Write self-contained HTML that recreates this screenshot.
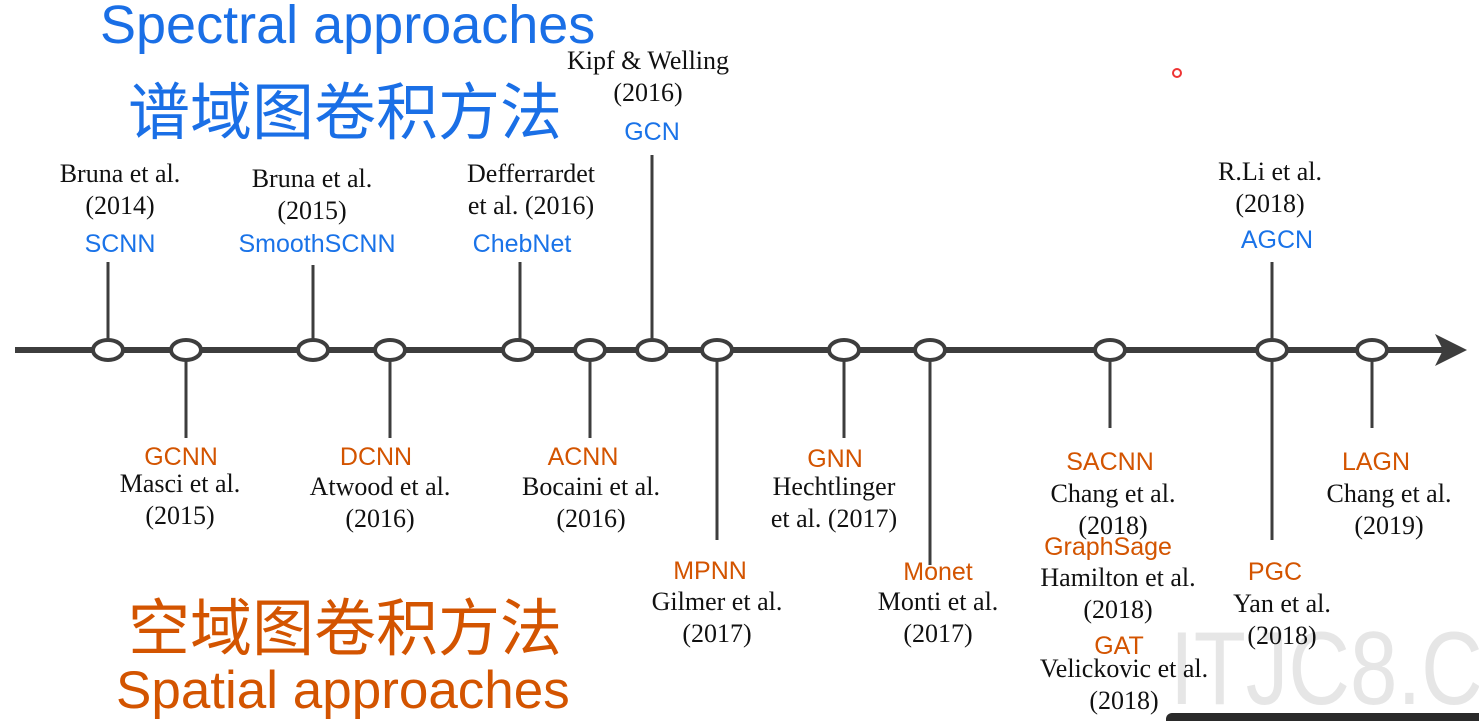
<!DOCTYPE html>
<html><head><meta charset="utf-8"><style>
body{margin:0;width:1479px;height:721px;background:#fff;position:relative;overflow:hidden;font-family:"Liberation Serif",serif}
.t{position:absolute;transform:translateX(-50%);white-space:nowrap;text-align:center;line-height:1}
.s{font-family:"Liberation Sans","DejaVu Sans",sans-serif;font-size:25px}
.b{color:#1a73e8}.o{color:#d35400}
.r{font-size:26px;color:#111;line-height:32px}
.big{position:absolute;font-family:"Liberation Sans","Noto Sans CJK SC",sans-serif;white-space:nowrap}
</style></head><body>
<div class="big b" style="left:100px;top:-6px;font-size:54px;color:#1a6fe6">Spectral approaches</div>
<div class="big b" style="left:128px;top:62px;font-size:62px;color:#1a6fe6">谱域图卷积方法</div>
<div class="big o" style="left:128px;top:578px;font-size:62px">空域图卷积方法</div>
<div class="big o" style="left:116px;top:660px;font-size:53px">Spatial approaches</div>
<div style="position:absolute;left:1160px;top:600px;width:319px;height:121px;overflow:hidden">
<div class="big" style="left:10px;top:10px;font-size:104px;color:#e6e6e6;transform:scaleX(0.82);transform-origin:0 0">ITJC8.CC</div>
</div>
<div style="position:absolute;left:1166px;top:713px;width:313px;height:8px;background:#2a2a2a;border-radius:6px 0 0 0"></div>
<svg style="position:absolute;left:0;top:0" width="1479" height="721">
<g stroke="#3d3d3d" stroke-width="3">
<line x1="108" y1="262" x2="108" y2="340"/><line x1="313" y1="265" x2="313" y2="340"/><line x1="520" y1="262" x2="520" y2="340"/><line x1="652" y1="155" x2="652" y2="340"/><line x1="1272" y1="262" x2="1272" y2="540"/>
<line x1="186" y1="360" x2="186" y2="438"/><line x1="390" y1="360" x2="390" y2="438"/><line x1="590" y1="360" x2="590" y2="438"/><line x1="717" y1="360" x2="717" y2="540"/><line x1="844" y1="360" x2="844" y2="438"/><line x1="930" y1="360" x2="930" y2="565"/><line x1="1110" y1="360" x2="1110" y2="428"/><line x1="1372" y1="360" x2="1372" y2="428"/>
</g>
<line x1="15" y1="350" x2="1445" y2="350" stroke="#3d3d3d" stroke-width="6"/>
<polygon points="1435,334 1467,350 1435,366 1443,350" fill="#3d3d3d"/>
<g fill="#fff" stroke="#3d3d3d" stroke-width="4">
<ellipse cx="108" cy="350" rx="15" ry="10"/><ellipse cx="186" cy="350" rx="15" ry="10"/><ellipse cx="313" cy="350" rx="15" ry="10"/><ellipse cx="390" cy="350" rx="15" ry="10"/><ellipse cx="518" cy="350" rx="15" ry="10"/><ellipse cx="590" cy="350" rx="15" ry="10"/><ellipse cx="652" cy="350" rx="15" ry="10"/><ellipse cx="717" cy="350" rx="15" ry="10"/><ellipse cx="844" cy="350" rx="15" ry="10"/><ellipse cx="930" cy="350" rx="15" ry="10"/><ellipse cx="1110" cy="350" rx="15" ry="10"/><ellipse cx="1272" cy="350" rx="15" ry="10"/><ellipse cx="1372" cy="350" rx="15" ry="10"/>
</g>
<circle cx="1177" cy="73" r="4" fill="none" stroke="#e33" stroke-width="2"/>
</svg>
<div class="t r" style="left:120px;top:158px">Bruna et al.<br>(2014)</div><div class="t s b" style="left:120px;top:232px">SCNN</div>
<div class="t r" style="left:312px;top:163px">Bruna et al.<br>(2015)</div><div class="t s b" style="left:317px;top:232px">SmoothSCNN</div>
<div class="t r" style="left:531px;top:158px">Defferrardet<br>et al. (2016)</div><div class="t s b" style="left:522px;top:232px">ChebNet</div>
<div class="t r" style="left:648px;top:45px">Kipf &amp; Welling<br>(2016)</div><div class="t s b" style="left:652px;top:120px">GCN</div>
<div class="t r" style="left:1270px;top:156px">R.Li et al.<br>(2018)</div><div class="t s b" style="left:1277px;top:228px">AGCN</div>
<div class="t s o" style="left:181px;top:445px">GCNN</div><div class="t r" style="left:180px;top:468px">Masci et al.<br>(2015)</div>
<div class="t s o" style="left:376px;top:445px">DCNN</div><div class="t r" style="left:380px;top:471px">Atwood et al.<br>(2016)</div>
<div class="t s o" style="left:583px;top:445px">ACNN</div><div class="t r" style="left:591px;top:471px">Bocaini et al.<br>(2016)</div>
<div class="t s o" style="left:710px;top:559px">MPNN</div><div class="t r" style="left:717px;top:586px">Gilmer et al.<br>(2017)</div>
<div class="t s o" style="left:835px;top:447px">GNN</div><div class="t r" style="left:834px;top:471px">Hechtlinger<br>et al. (2017)</div>
<div class="t s o" style="left:938px;top:560px">Monet</div><div class="t r" style="left:938px;top:586px">Monti et al.<br>(2017)</div>
<div class="t s o" style="left:1110px;top:450px">SACNN</div><div class="t r" style="left:1113px;top:478px">Chang et al.<br>(2018)</div>
<div class="t s o" style="left:1108px;top:535px">GraphSage</div><div class="t r" style="left:1118px;top:562px">Hamilton et al.<br>(2018)</div>
<div class="t s o" style="left:1119px;top:634px">GAT</div><div class="t r" style="left:1124px;top:653px">Velickovic et al.<br>(2018)</div>
<div class="t s o" style="left:1275px;top:560px">PGC</div><div class="t r" style="left:1282px;top:588px">Yan et al.<br>(2018)</div>
<div class="t s o" style="left:1376px;top:450px">LAGN</div><div class="t r" style="left:1389px;top:478px">Chang et al.<br>(2019)</div>
</body></html>
